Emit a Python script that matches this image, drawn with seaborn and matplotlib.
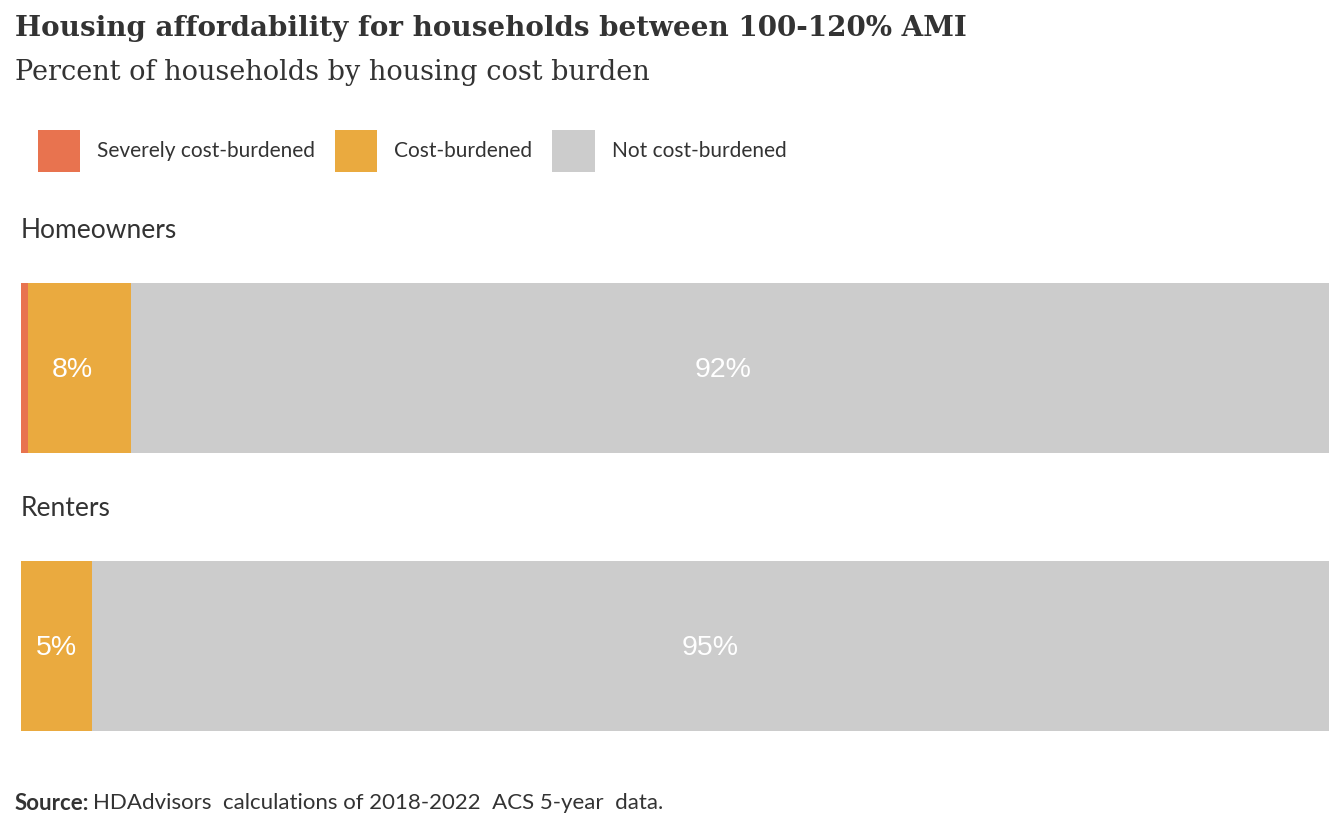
import pandas as pd
import matplotlib.pyplot as plt
import seaborn as sns
from matplotlib.patches import Patch

# data
groups = ['Homeowners', 'Renters']
severe = [0.5, 0.0]
burdened = [7.9, 5.4]
not_burdened = [91.6, 94.6]
labels_burdened = ['8%', '5%']
labels_not = ['92%', '95%']

series = ['Severely cost-burdened', 'Cost-burdened', 'Not cost-burdened']
colors = ['#E8734F', '#EAAA3F', '#CCCCCC']
text_col = '#333333'

df = pd.DataFrame({'group': groups, 'severe': severe,
                   'burdened': burdened, 'not': not_burdened})
df['c1'] = df['severe']
df['c2'] = df['severe'] + df['burdened']
df['c3'] = df['c2'] + df['not']

sns.set_style('white')
W, H = 1344, 830
fig = plt.figure(figsize=(W / 100, H / 100), dpi=100)

# axes box in pixels: x 21..1329, y 200..760 (top-down)
ax = fig.add_axes([21 / W, 1 - 760 / H, (1329 - 21) / W, (760 - 200) / H])

# stacked bars by overlapping cumulative totals
for col, c in zip(['c3', 'c2', 'c1'], colors[::-1]):
    sns.barplot(data=df, x=col, y='group', orient='h', color=c,
                width=0.612, saturation=1, ax=ax, linewidth=0)

ax.set_xlim(0, 100)
ax.set_ylim(1.41, -0.604)
ax.axis('off')

# value labels (the original centres them ignoring the thin severe segment)
for i in range(len(groups)):
    x1 = df['burdened'][i] / 2
    x2 = df['burdened'][i] + df['not'][i] / 2
    ax.text(x1, i + 0.008, labels_burdened[i], ha='center', va='center', color='white',
            fontsize=20.5, family='Liberation Sans')
    ax.text(x2, i + 0.008, labels_not[i], ha='center', va='center', color='white',
            fontsize=20.5, family='Liberation Sans')
    ax.text(0, i - 0.494, groups[i], ha='left', va='center', color=text_col,
            fontsize=19, family='Lato')

# titles
fig.text(15 / W, 1 - 29 / H, 'Housing affordability for households between 100-120% AMI',
         fontsize=20, fontweight='bold', family='DejaVu Serif', color=text_col,
         va='center', ha='left')
fig.text(15 / W, 1 - 72 / H, 'Percent of households by housing cost burden',
         fontsize=19.5, family='DejaVu Serif', color=text_col, va='center', ha='left')

# legend
handles = [Patch(facecolor=c, edgecolor='none') for c in colors]
fig.legend(handles, series, loc='center left', bbox_to_anchor=(38 / W, 1 - 151 / H),
           ncol=3, frameon=False, prop={'family': 'Lato', 'size': 15},
           handlelength=2.02, handleheight=2.72, handletextpad=0.82,
           columnspacing=0.96, borderpad=0, borderaxespad=0,
           labelcolor=text_col)

# source line
src = fig.text(15 / W, 1 - 803 / H, 'Source:', fontsize=16, fontweight='bold',
               family='Lato', color=text_col, va='center', ha='left')
fig.canvas.draw()
bb = src.get_window_extent(fig.canvas.get_renderer())
fig.text(bb.x1 / W + 4 / W, 1 - 803 / H,
         'HDAdvisors  calculations of 2018-2022  ACS 5-year  data.',
         fontsize=16, family='Lato', color=text_col, va='center', ha='left')

fig.savefig('out.png', dpi=100)
